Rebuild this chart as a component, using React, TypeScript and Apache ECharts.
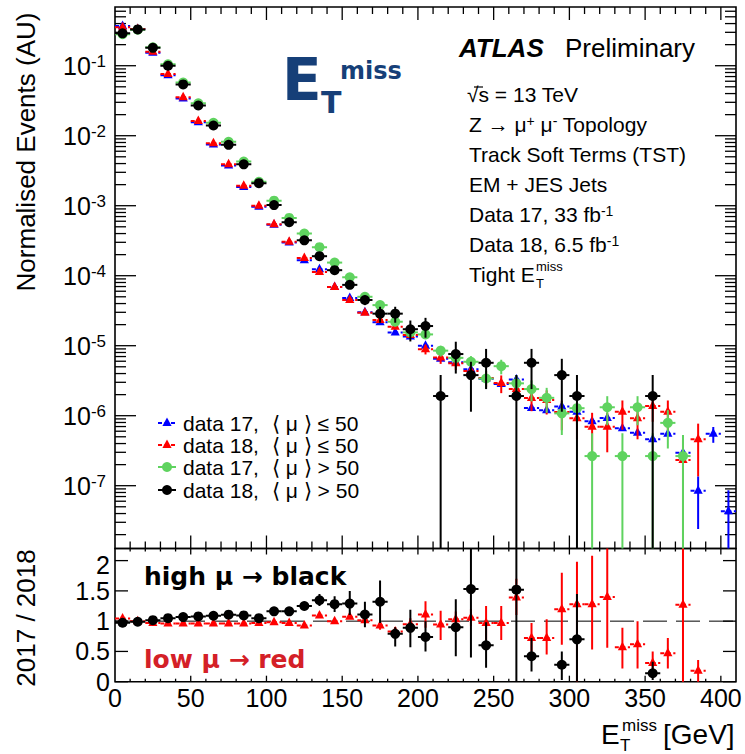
import React, { useEffect, useRef } from "react";
import * as echarts from "echarts";

// ---------------- data ----------------
const bins = [5, 15, 25, 35, 45, 55, 65, 75, 85, 95, 105, 115, 125, 135, 145, 155, 165, 175, 185, 195, 205, 215, 225, 235, 245, 255, 265, 275, 285, 295, 305, 315, 325, 335, 345, 355, 365, 375, 385, 395, 405];

// data 17, <mu> <= 50 (blue)
const data17Low = [0.37, 0.334, 0.153, 0.073, 0.034, 0.0156, 0.0075, 0.00374, 0.00185, 9.7e-4, 5.33e-4, 2.97e-4, 1.66e-4, 1.24e-4, 6.9e-5, 4.8e-5, 3.0e-5, 2.16e-5, 1.55e-5, 1.35e-5, 1.0e-5, 6.5e-6, 5.8e-6, 4.6e-6, 3.36e-6, 2.84e-6, 3.3e-6, 1.29e-6, 1.2e-6, 1.35e-6, 1.14e-6, 8.3e-7, 9.3e-7, 6.6e-7, 5.7e-7, 4.6e-7, 5.5e-7, 2.96e-7, 8.5e-8, 5.5e-7, 4.3e-8];
// data 18, <mu> <= 50 (red)
const data18Low = [0.354, 0.334, 0.158, 0.0761, 0.0354, 0.0162, 0.00779, 0.0039, 0.00193, 0.001, 5.42e-4, 3.06e-4, 1.79e-4, 1.13e-4, 6.9e-5, 4.5e-5, 2.96e-5, 2.33e-5, 1.87e-5, 1.42e-5, 8.9e-6, 6.8e-6, 5.6e-6, 4.36e-6, 3.46e-6, 2.93e-6, 2.4e-6, 1.79e-6, 1.67e-6, 1.13e-6, 9.2e-7, 6.96e-7, 6.96e-7, 1.14e-6, 9.2e-7, 1.38e-6, 1.14e-6, 2.33e-7, 4.6e-7, null, null];
// data 17, <mu> > 50 (green)
const data17High = [0.282, 0.327, 0.183, 0.105, 0.0576, 0.0291, 0.0153, 0.0082, 0.00427, 0.0022, 0.00118, 6.7e-4, 4.0e-4, 2.56e-4, 1.54e-4, 9.5e-5, 5.0e-5, 3.8e-5, 2.2e-5, 1.55e-5, 1.45e-5, 8.5e-6, 6.7e-6, 5.9e-6, 3.4e-6, 5.1e-6, 2.9e-6, 2.4e-6, 1.8e-6, 1.08e-6, 1.28e-6, 2.65e-7, 1.32e-6, 2.65e-7, 1.32e-6, 2.65e-7, 7.9e-7, 2.65e-7, null, null, null];
// data 18, <mu> > 50 (black)
const data18High = [0.29, 0.33, 0.18, 0.1, 0.054, 0.027, 0.014, 0.0074, 0.0039, 0.0021, 0.00102, 5.8e-4, 3.2e-4, 1.9e-4, 1.2e-4, 7.4e-5, 4.5e-5, 2.87e-5, 2.87e-5, 1.72e-5, 1.91e-5, 1.91e-6, 7.6e-6, 3.8e-6, 5.7e-6, null, 1.91e-6, 5.7e-6, null, 3.8e-6, 1.91e-6, null, null, null, null, 1.91e-6, null, null, null, null, null];

// vertical error bars: [bin, low, high]
const data17LowErr = [[385, 2.4e-8, 1.36e-7], [395, 4.1e-7, 6.9e-7], [405, 1e-10, 8.6e-8]];
const data18LowErr = [[205, 7.5e-6, 1.03e-5], [215, 5.5e-6, 8.1e-6], [225, 4.5e-6, 6.7e-6], [235, 3.36e-6, 5.36e-6], [245, 2.56e-6, 4.36e-6], [255, 2.1e-6, 3.76e-6], [265, 1.63e-6, 3.17e-6], [275, 1.16e-6, 2.42e-6], [285, 1.04e-6, 2.3e-6], [295, 6.2e-7, 1.64e-6], [305, 4.6e-7, 1.38e-6], [315, 3.0e-7, 1.1e-6], [325, 3.0e-7, 1.1e-6], [335, 6.3e-7, 1.65e-6], [345, 4.6e-7, 1.38e-6], [355, 8.2e-7, 1.95e-6], [365, 6.3e-7, 1.65e-6], [375, 1e-10, 4.6e-7], [385, 1.36e-7, 7.7e-7]];
const data17HighErr = [[155, 8.8e-5, 1.02e-4], [165, 4.55e-5, 5.45e-5], [175, 3.42e-5, 4.18e-5], [185, 1.89e-5, 2.51e-5], [195, 1.35e-5, 1.75e-5], [205, 1.26e-5, 1.64e-5], [215, 7.0e-6, 1.0e-5], [225, 5.4e-6, 8.0e-6], [235, 4.7e-6, 7.1e-6], [245, 2.45e-6, 4.35e-6], [255, 3.9e-6, 6.3e-6], [265, 2.0e-6, 3.8e-6], [275, 1.6e-6, 3.2e-6], [285, 1.1e-6, 2.5e-6], [295, 5.3e-7, 1.6e-6], [305, 7.3e-7, 1.9e-6], [315, 1e-10, 5.6e-7], [325, 7.3e-7, 1.9e-6], [335, 1e-10, 5.6e-7], [345, 7.3e-7, 1.9e-6], [355, 1e-10, 5.6e-7], [365, 3.4e-7, 1.2e-6], [375, 1e-10, 5.3e-7]];
const data18HighErr = [[125, 3.04e-4, 3.36e-4], [135, 1.77e-4, 2.03e-4], [145, 1.09e-4, 1.31e-4], [155, 6.6e-5, 8.2e-5], [165, 3.8e-5, 5.2e-5], [175, 2.13e-5, 3.6e-5], [185, 2.13e-5, 3.6e-5], [195, 1.15e-5, 2.29e-5], [205, 1.3e-5, 2.5e-5], [215, 1e-10, 3.8e-6], [225, 4.0e-6, 1.14e-5], [235, 1.14e-6, 5.9e-6], [245, 2.4e-6, 9.0e-6], [265, 1e-10, 3.8e-6], [275, 2.4e-6, 9.0e-6], [295, 1.14e-6, 6.5e-6], [305, 1e-10, 3.8e-6], [355, 1e-10, 3.8e-6]];

// ratio 2017 / 2018
const ratioLowMu = [1.045, 1.0, 0.97, 0.96, 0.96, 0.96, 0.96, 0.96, 0.96, 0.97, 0.983, 0.97, 0.928, 1.095, 1.0, 1.073, 1.017, 0.928, 0.83, 0.95, 1.11, 0.945, 1.03, 1.057, 0.97, 0.97, 1.39, 0.72, 0.72, 1.195, 1.28, 1.28, 1.4, 0.57, 0.62, 0.31, 0.47, 1.27, 0.18, null, null];
const ratioHighMu = [0.973, 0.99, 1.017, 1.05, 1.067, 1.078, 1.09, 1.107, 1.095, 1.05, 1.162, 1.162, 1.25, 1.345, 1.28, 1.29, 1.11, 1.32, 0.79, 0.89, 0.74, null, 0.9, 1.53, 0.6, null, 1.52, 0.42, null, 0.28, 0.7, null, null, null, null, 0.14, null, null, null, null, null];
const ratioLowMuErr = [[175, 0.86, 1.0], [185, 0.76, 0.9], [195, 0.85, 1.05], [205, 0.89, 1.33], [215, 0.69, 1.17], [225, 0.9, 1.16], [235, 0.92, 1.2], [245, 0.69, 1.25], [255, 0.69, 1.25], [265, 1.1, 1.7], [275, 0.5, 0.97], [285, 0.45, 1.03], [295, 0.61, 1.8], [305, 0.0, 1.98], [315, 0.53, 2.08], [325, 0.56, 2.3], [335, 0.22, 0.89], [345, 0.22, 1.0], [355, 0.08, 0.5], [365, 0.22, 0.72], [375, -1, 3], [385, -1, 0.36]];
const ratioHighMuErr = [[125, 1.2, 1.3], [135, 1.25, 1.45], [145, 1.15, 1.41], [155, 1.1, 1.5], [165, 0.9, 1.32], [175, 0.97, 1.67], [185, 0.58, 0.9], [195, 0.57, 1.19], [205, 0.5, 1.0], [225, 0.42, 1.36], [235, 0.4, 3], [245, 0.23, 0.98], [265, -1, 3], [275, 0.17, 0.72], [295, 0.03, 0.5], [305, 0, 1.45], [355, 0.03, 0.33]];

const xMajorTicks = [0, 50, 100, 150, 200, 250, 300, 350, 400];
const ratioYTicks = [0, 0.5, 1, 1.5, 2];
const mainYDecades = [-8, -7, -6, -5, -4, -3, -2, -1];

const legendLabels = ["data 17,", "data 18,", "data 17,", "data 18,"];
const legendConds = ["⟨ μ ⟩ ≤ 50", "⟨ μ ⟩ ≤ 50", "⟨ μ ⟩ > 50", "⟨ μ ⟩ > 50"];

// ---------------- style ----------------
const FONT = "'Liberation Sans', Arial, Helvetica, sans-serif";
const BOLDFONT = "'DejaVu Sans', 'Liberation Sans', sans-serif";
const BLUE = "#0000ff";
const RED = "#ff0000";
const GREEN = "#5fd35f";
const BLACK = "#000000";
const LOGO = "#163f78";

const X_MIN = 0;
const X_MAX = 410;
const Y_MIN = 1.267e-8;
const Y_MAX = 0.69;
const R_MIN = 0;
const R_MAX = 2.2;

function buildPoints(vals: (number | null)[], errs: number[][]) {
  const out: number[][] = [];
  bins.forEach((b, i) => {
    const v = vals[i];
    if (v == null) return;
    const e = errs.find((r) => r[0] === b);
    out.push([b, v, e ? e[1] : v, e ? e[2] : v]);
  });
  return out;
}

function pointSeries(name: string, xi: number, yi: number, data: number[][], color: string, marker: string, dashed: boolean, z: number) {
  return {
    type: "custom",
    name,
    xAxisIndex: xi,
    yAxisIndex: yi,
    clip: true,
    silent: true,
    z,
    data,
    encode: { x: 0, y: 1 },
    renderItem: (params: any, api: any) => {
      const x = api.value(0);
      const y = api.value(1);
      const lo = api.value(2);
      const hi = api.value(3);
      const c = api.coord([x, y]);
      const l = api.coord([x - 5, y])[0];
      const r = api.coord([x + 5, y])[0];
      const children: any[] = [];
      children.push({
        type: "line",
        shape: { x1: l, y1: c[1], x2: r, y2: c[1] },
        style: { stroke: color, lineWidth: 2, lineDash: dashed ? [4, 2.5] : null },
      });
      if (lo !== y || hi !== y) {
        const pl = api.coord([x, lo])[1];
        const ph = api.coord([x, hi])[1];
        children.push({
          type: "line",
          shape: { x1: c[0], y1: pl, x2: c[0], y2: ph },
          style: { stroke: color, lineWidth: 2 },
        });
      }
      if (marker === "circle") {
        children.push({ type: "circle", shape: { cx: c[0], cy: c[1], r: 5 }, style: { fill: color } });
      } else {
        children.push({
          type: "polygon",
          shape: { points: [[c[0], c[1] - 5.5], [c[0] - 4.6, c[1] + 3], [c[0] + 4.6, c[1] + 3]] },
          style: { fill: color },
        });
      }
      return { type: "group", children };
    },
  };
}

function tickSeries(xi: number, yi: number, ticks: number[][]) {
  return {
    type: "custom",
    xAxisIndex: xi,
    yAxisIndex: yi,
    clip: false,
    silent: true,
    z: 6,
    data: ticks,
    encode: { x: 0, y: 1 },
    renderItem: (params: any, api: any) => {
      const cs = params.coordSys;
      const kind = api.value(2);
      const len = api.value(3);
      const p = api.coord([api.value(0), api.value(1)]);
      const st = { stroke: "#000", lineWidth: 1.3 };
      if (kind === 0) {
        const yb = cs.y + cs.height;
        const yt = cs.y;
        return {
          type: "group",
          children: [
            { type: "line", shape: { x1: p[0], y1: yb, x2: p[0], y2: yb - len }, style: st },
            { type: "line", shape: { x1: p[0], y1: yt, x2: p[0], y2: yt + len }, style: st },
          ],
        };
      }
      const xl = cs.x;
      const xr = cs.x + cs.width;
      return {
        type: "group",
        children: [
          { type: "line", shape: { x1: xl, y1: p[1], x2: xl + len, y2: p[1] }, style: st },
          { type: "line", shape: { x1: xr, y1: p[1], x2: xr - len, y2: p[1] }, style: st },
        ],
      };
    },
  };
}

function buildOption() {
  // tick descriptors [x, y, kind(0=x,1=y), length]
  const mainTicks: number[][] = [];
  const ratioTicks: number[][] = [];
  for (let v = 10; v < X_MAX; v += 10) {
    const major = xMajorTicks.indexOf(v) >= 0;
    mainTicks.push([v, 1e-3, 0, major ? 13 : 7]);
    ratioTicks.push([v, 1, 0, major ? 6 : 3]);
  }
  mainYDecades.forEach((d) => {
    for (let k = 1; k <= 9; k++) {
      const v = k * Math.pow(10, d);
      if (v > Y_MIN && v < Y_MAX) mainTicks.push([100, v, 1, k === 1 ? 21 : 11]);
    }
  });
  ratioYTicks.forEach((v) => ratioTicks.push([100, v, 1, 13]));

  const ax = { show: false };
  const supRich = {
    b: { fontSize: 25, fontFamily: FONT, color: "#000" },
    s: { fontSize: 17, fontFamily: FONT, color: "#000", verticalAlign: "top" },
  };

  const t = (text: string, x: number, y: number, size: number, extra: any = {}) => ({
    type: "text",
    x,
    y,
    silent: true,
    style: { text, fontSize: size, fontFamily: FONT, fill: "#000", align: "left", verticalAlign: "middle", ...extra },
  });

  const richSup = (size: number) => ({
    n: { fontSize: size, fontFamily: FONT, fill: "#000" },
    s: { fontSize: Math.round(size * 0.65), fontFamily: FONT, fill: "#000", verticalAlign: "top" },
  });

  const legendY = [423, 445, 467, 490];
  const legendColors = [BLUE, RED, GREEN, BLACK];
  const legendEls: any[] = [];
  legendY.forEach((y, i) => {
    const cx = 167;
    const tri = i < 2;
    const color = legendColors[i];
    legendEls.push({
      type: "line",
      silent: true,
      shape: { x1: cx - 9, y1: y, x2: cx + 9, y2: y },
      style: { stroke: color, lineWidth: 2, lineDash: tri ? [4, 2.5] : null },
    });
    if (tri) {
      legendEls.push({
        type: "polygon",
        silent: true,
        shape: { points: [[cx, y - 5.5], [cx - 4.6, y + 3], [cx + 4.6, y + 3]] },
        style: { fill: color },
      });
    } else {
      legendEls.push({ type: "circle", silent: true, shape: { cx, cy: y, r: 5 }, style: { fill: color } });
    }
    legendEls.push(t(legendLabels[i], 183, y, 21));
    legendEls.push(t(legendConds[i], 272, y, 21));
  });

  const graphic: any[] = [
    // axis titles
    { type: "text", x: 26, y: 152, rotation: Math.PI / 2, silent: true, style: { text: "Normalised Events (AU)", fontSize: 26, fontFamily: FONT, fill: "#000", align: "center", verticalAlign: "middle" } },
    { type: "text", x: 26, y: 618, rotation: Math.PI / 2, silent: true, style: { text: "2017 / 2018", fontSize: 26, fontFamily: FONT, fill: "#000", align: "center", verticalAlign: "middle" } },
    t("E", 601, 734, 28),
    t("miss", 622, 725, 17),
    t("T", 620, 745, 17),
    t("[GeV]", 663, 734, 28),
    // ETmiss logo
    { type: "text", x: 282, y: 80, silent: true, style: { text: "E", fontSize: 58, fontWeight: "bold", fontFamily: BOLDFONT, fill: LOGO, verticalAlign: "middle" } },
    { type: "text", x: 321, y: 102, silent: true, style: { text: "T", fontSize: 30, fontWeight: "bold", fontFamily: BOLDFONT, fill: LOGO, verticalAlign: "middle" } },
    { type: "text", x: 340, y: 71, silent: true, style: { text: "miss", fontSize: 24, fontWeight: "bold", fontFamily: BOLDFONT, fill: LOGO, verticalAlign: "middle" } },
    // ATLAS label
    t("ATLAS", 459, 47.5, 26, { fontWeight: "bold", fontStyle: "italic" }),
    t("Preliminary", 565, 47.5, 26),
    t("√s = 13 TeV", 467, 94.3, 21),
    { type: "line", silent: true, shape: { x1: 474, y1: 87, x2: 483, y2: 87 }, style: { stroke: "#000", lineWidth: 1.2 } },
    t("{n|Z → μ}{s|+}{n| μ}{s|-}{n| Topology}", 469, 124.3, 21, { rich: richSup(21) }),
    t("Track Soft Terms (TST)", 469, 154.3, 21),
    t("EM + JES Jets", 469, 184.3, 21),
    t("{n|Data 17, 33 fb}{s|-1}", 469, 214.3, 21, { rich: richSup(21) }),
    t("{n|Data 18, 6.5 fb}{s|-1}", 469, 244.3, 21, { rich: richSup(21) }),
    t("Tight E", 469, 274.3, 21),
    t("miss", 536, 266, 13),
    t("T", 536, 283, 13),
    // ratio annotations
    { type: "text", x: 144, y: 576.5, silent: true, style: { text: "high μ → black", fontSize: 25, fontWeight: "bold", fontFamily: BOLDFONT, fill: "#000", verticalAlign: "middle" } },
    { type: "text", x: 144, y: 659.5, silent: true, style: { text: "low μ → red", fontSize: 25, fontWeight: "bold", fontFamily: BOLDFONT, fill: "#d42027", verticalAlign: "middle" } },
    ...legendEls,
  ];

  return {
    animation: false,
    backgroundColor: "#ffffff",
    grid: [
      { left: 115, top: 7, width: 621, height: 541.5, show: true, borderColor: "#000", borderWidth: 1.6, backgroundColor: "transparent" },
      { left: 115, top: 548.5, width: 621, height: 133.2, show: true, borderColor: "#000", borderWidth: 1.6, backgroundColor: "transparent" },
    ],
    xAxis: [
      { type: "value", gridIndex: 0, min: X_MIN, max: X_MAX, interval: 50, axisLine: ax, axisTick: ax, axisLabel: ax, splitLine: ax },
      {
        type: "value", gridIndex: 1, min: X_MIN, max: X_MAX, interval: 50,
        axisLine: ax, axisTick: ax, splitLine: ax,
        axisLabel: { show: true, fontSize: 25, fontFamily: FONT, color: "#000", margin: 4, showMaxLabel: false },
      },
    ],
    yAxis: [
      {
        type: "log", logBase: 10, gridIndex: 0, min: Y_MIN, max: Y_MAX,
        axisLine: ax, axisTick: ax, splitLine: ax, minorTick: ax,
        axisLabel: {
          show: true, margin: 9, showMinLabel: false, showMaxLabel: false,
          formatter: (v: number) => `{b|10}{s|${Math.round(Math.log10(v))}}`,
          rich: supRich,
        },
      },
      {
        type: "value", gridIndex: 1, min: R_MIN, max: R_MAX, interval: 0.5,
        axisLine: ax, axisTick: ax, splitLine: ax,
        axisLabel: {
          show: true, fontSize: 25, fontFamily: FONT, color: "#000", margin: 5, showMaxLabel: false,
          formatter: (v: number) => (v === 2 ? "{hi|2}" : `{n|${v}}`),
          rich: {
            n: { fontSize: 25, fontFamily: FONT, color: "#000" },
            hi: { fontSize: 25, fontFamily: FONT, color: "#000", padding: [8, 0, 0, 0] },
          },
        },
      },
    ],
    series: [
      tickSeries(0, 0, mainTicks),
      tickSeries(1, 1, ratioTicks),
      pointSeries("data 17, <mu> <= 50", 0, 0, buildPoints(data17Low, data17LowErr), BLUE, "tri", true, 10),
      pointSeries("data 18, <mu> <= 50", 0, 0, buildPoints(data18Low, data18LowErr), RED, "tri", true, 11),
      pointSeries("data 17, <mu> > 50", 0, 0, buildPoints(data17High, data17HighErr), GREEN, "circle", false, 12),
      pointSeries("data 18, <mu> > 50", 0, 0, buildPoints(data18High, data18HighErr), BLACK, "circle", false, 13),
      {
        type: "line", xAxisIndex: 1, yAxisIndex: 1, silent: true, z: 8,
        data: [[X_MIN, 1], [X_MAX, 1]], showSymbol: false, symbol: "none",
        lineStyle: { color: "#000", width: 1, type: [24, 9] },
      },
      pointSeries("ratio low mu", 1, 1, buildPoints(ratioLowMu, ratioLowMuErr), RED, "tri", true, 10),
      pointSeries("ratio high mu", 1, 1, buildPoints(ratioHighMu, ratioHighMuErr), BLACK, "circle", false, 11),
    ],
    graphic,
  };
}

export default function App() {
  const ref = useRef<HTMLDivElement>(null);
  useEffect(() => {
    const chart = echarts.init(ref.current as HTMLDivElement, undefined, { renderer: "svg" });
    chart.setOption(buildOption() as any);
    return () => chart.dispose();
  }, []);
  return <div ref={ref} style={{ position: "absolute", left: 0, top: 0, width: 745, height: 754, background: "#fff" }} />;
}
